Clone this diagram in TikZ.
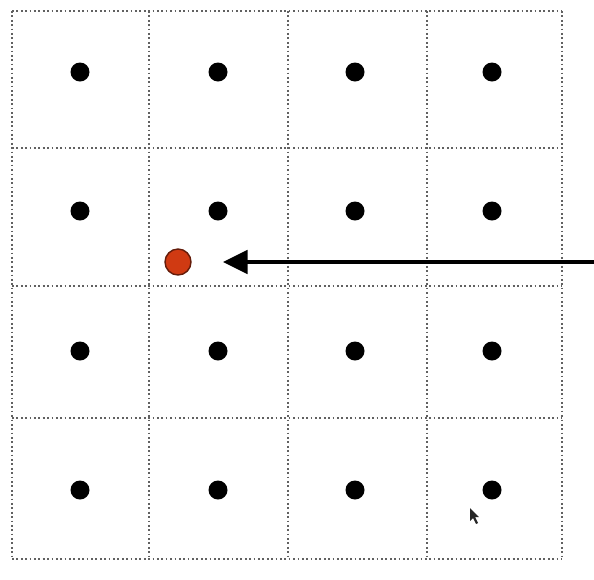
\documentclass[tikz,border=0pt]{standalone}
\usepackage{xcolor}
\usepackage{tikz}
\usetikzlibrary{calc, arrows.meta, positioning}

\definecolor{gridgray}{gray}{0.38}
\definecolor{sampred}{RGB}{208,58,18}
\definecolor{samprim}{RGB}{100,28,10}

\begin{document}
\begin{tikzpicture}[x=0.02cm, y=-0.02cm,
    gridline/.style={gridgray, line width=1.3pt, dash pattern=on 1pt off 1.5pt},
    pixdot/.style={circle, fill=black, inner sep=0pt, minimum size=0.38cm},
    sampdot/.style={circle, fill=sampred, draw=samprim, line width=0.8pt, inner sep=0pt, minimum size=0.52cm},
    lookarrow/.style={line width=2.8pt, -{Triangle[length=0.5cm, width=0.46cm]}, shorten >=0.62cm}
  ]

    % =================================================================
    % 1. KHUNG VE (kich thuoc theo anh goc)
    % =================================================================
    \useasboundingbox (0,0) rectangle (594,579);

    % =================================================================
    % 2. LUOI O VUONG NET CHAM
    % =================================================================
    \foreach \gx in {12,149,288,427,562}
        \draw[gridline] (\gx,11) -- (\gx,559);
    \foreach \gy in {11,148,286,418,559}
        \draw[gridline] (12,\gy) -- (562,\gy);

    % =================================================================
    % 3. CAC DIEM TAM O (4x4)
    % =================================================================
    \foreach \gx [count=\i] in {80,218,355,492}
        \foreach \gy [count=\j] in {72,211,351,490}
            \node[pixdot] (p\i\j) at (\gx,\gy) {};

    % =================================================================
    % 4. DIEM MAU DO VA MUI TEN CHI VAO
    % =================================================================
    \node[sampdot] (samp) at (178,262) {};
    \coordinate (arrowStart) at (594,262);
    \draw[lookarrow] (arrowStart) -- (samp);

    % Con tro chuot
    \fill[black!85] (470,508) -- (470,521) -- (473,518) -- (476,524) -- (478,523)
        -- (475,517) -- (479,517) -- cycle;

\end{tikzpicture}
\end{document}
